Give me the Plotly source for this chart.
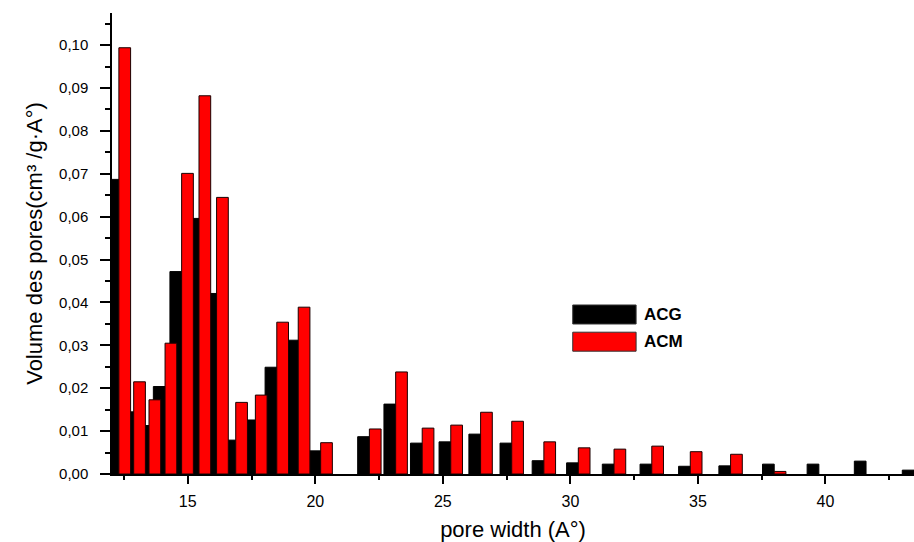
import plotly.graph_objects as go

# pore width (A°) at each pair of bars
pore_width = [12.30, 12.88, 13.48, 14.11, 14.76, 15.44, 16.13, 16.88, 17.65, 18.49,
              19.33, 20.21, 22.12, 23.15, 24.19, 25.31, 26.48, 27.70, 28.96, 30.31,
              31.71, 33.19, 34.70, 36.28, 37.99, 39.74, 41.59, 43.47]

acg = [0.0687, 0.0145, 0.0113, 0.0204, 0.0472, 0.0596, 0.0421, 0.0079, 0.0126, 0.0249,
       0.0312, 0.0054, 0.0087, 0.0163, 0.0072, 0.0075, 0.0093, 0.0072, 0.0031, 0.0026,
       0.0023, 0.0023, 0.0018, 0.0019, 0.0023, 0.0023, 0.0030, 0.0009]

acm = [0.0994, 0.0215, 0.0173, 0.0305, 0.0701, 0.0882, 0.0645, 0.0167, 0.0184, 0.0354,
       0.0389, 0.0073, 0.0105, 0.0238, 0.0107, 0.0114, 0.0144, 0.0123, 0.0075, 0.0061,
       0.0058, 0.0065, 0.0052, 0.0046, 0.0006, None, None, None]

series_names = ["ACG", "ACM"]
series_colors = ["#000000", "#ff0000"]

BAR_W = 0.459
FONT = "Liberation Sans, Arial, sans-serif"

fig = go.Figure()
fig.add_trace(go.Bar(x=pore_width, y=acg, name=series_names[0], width=BAR_W, offset=-BAR_W,
                     marker=dict(color=series_colors[0], line=dict(color="#000000", width=1)),
                     showlegend=False))
fig.add_trace(go.Bar(x=pore_width, y=acm, name=series_names[1], width=BAR_W, offset=0,
                     marker=dict(color=series_colors[1], line=dict(color="#1a0000", width=1)),
                     showlegend=False))

# legend drawn as boxes + labels
leg_y = [0.346, 0.287]
for name, col, yy in zip(series_names, series_colors, leg_y):
    fig.add_shape(type="rect", xref="paper", yref="paper",
                  x0=0.5745, x1=0.6535, y0=yy - 0.0206, y1=yy + 0.0206,
                  fillcolor=col, line=dict(color="#333333", width=1))
    fig.add_annotation(xref="paper", yref="paper", x=0.661, y=yy, text="<b>%s</b>" % name,
                       showarrow=False, xanchor="left", yanchor="middle",
                       font=dict(family=FONT, size=17, color="#000000"))

fig.update_layout(
    width=914, height=542,
    margin=dict(l=112, r=0, t=13, b=68),
    paper_bgcolor="white", plot_bgcolor="white",
    separators=", ",
    barmode="overlay",
    font=dict(family=FONT, color="#000000"),
)

fig.update_xaxes(
    range=[12.03, 43.47], showgrid=False, zeroline=False, automargin=False,
    showline=True, linecolor="#000000", linewidth=1.5,
    ticks="outside", ticklen=8, tickwidth=1.5, tickcolor="#000000",
    tick0=0, dtick=5, ticklabelstandoff=4,
    minor=dict(ticks="outside", ticklen=4, tickwidth=1.5, tickcolor="#000000", dtick=2.5, tick0=0, showgrid=False),
    tickfont=dict(family=FONT, size=16),
    title=dict(text="pore width (A°)", font=dict(family=FONT, size=22), standoff=13),
)
fig.update_yaxes(
    range=[0, 0.1075], showgrid=False, zeroline=False, automargin=False,
    showline=True, linecolor="#000000", linewidth=1.5,
    ticks="outside", ticklen=10, tickwidth=1.5, tickcolor="#000000",
    tick0=0, dtick=0.01, tickformat=".2f", ticklabelstandoff=9,
    minor=dict(ticks="outside", ticklen=5, tickwidth=1.5, tickcolor="#000000", dtick=0.005, tick0=0, showgrid=False),
    tickfont=dict(family=FONT, size=15),
    title=dict(text="Volume des pores(cm³ /g·A°)", font=dict(family=FONT, size=22), standoff=10),
)

fig.write_html("out.html")
